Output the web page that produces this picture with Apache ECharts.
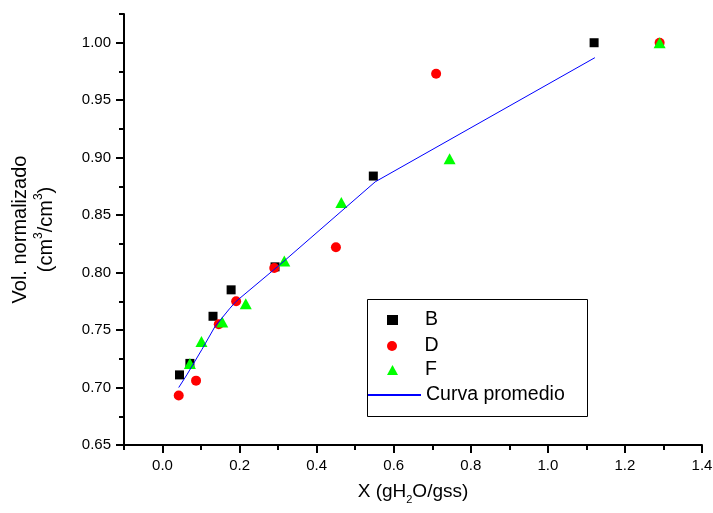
<!DOCTYPE html>
<html>
<head>
<meta charset="utf-8">
<script src="https://cdn.jsdelivr.net/npm/echarts@6/dist/echarts.min.js"></script>
<style>html,body{margin:0;padding:0;background:#fff}#c{width:713px;height:513px}</style>
</head>
<body>
<div id="c"></div>
<script>
// ---- data ----
var B_x = [0.044, 0.071, 0.131, 0.178, 0.292, 0.547, 1.120];
var B_y = [0.711, 0.721, 0.762, 0.785, 0.805, 0.884, 1.000];
var D_x = [0.042, 0.087, 0.146, 0.191, 0.290, 0.450, 0.710, 1.290];
var D_y = [0.693, 0.706, 0.755, 0.775, 0.804, 0.822, 0.973, 1.000];
var F_x = [0.071, 0.101, 0.155, 0.216, 0.316, 0.464, 0.745, 1.290];
var F_y = [0.721, 0.740, 0.757, 0.773, 0.810, 0.861, 0.899, 1.000];
var C_x = [0.042, 0.063, 0.102, 0.136, 0.175, 0.191, 0.305, 0.552, 1.122];
var C_y = [0.700, 0.711, 0.733, 0.753, 0.769, 0.775, 0.807, 0.879, 0.987];
var seriesNames = ['B', 'D', 'F', 'Curva promedio'];
var xMajorTicks = [0.0, 0.2, 0.4, 0.6, 0.8, 1.0, 1.2, 1.4];
var xMinorTicks = [-0.1, 0.1, 0.3, 0.5, 0.7, 0.9, 1.1, 1.3];
var yMajorTicks = [0.65, 0.70, 0.75, 0.80, 0.85, 0.90, 0.95, 1.00];
var yMinorTicks = [0.675, 0.725, 0.775, 0.825, 0.875, 0.925, 0.975, 1.025];

function pairs(xs, ys) { return xs.map(function (x, i) { return [x, ys[i]]; }); }

var FONT = '"Liberation Sans", Arial, sans-serif';
var chart = echarts.init(document.getElementById('c'), null, {renderer: 'canvas'});
var axisLineStyle = {color: '#000', width: 2};
var gridBox = {left: 124, right: 11, top: 14, bottom: 68, containLabel: false, outerBoundsMode: 'none'};
var legendText = {fontSize: 19.5, lineHeight: 17, color: '#000', fontFamily: FONT};
var legendTops = [310, 336, 360, 385];

function scatterLegend(i) {
  return {
    orient: 'vertical', left: 387, top: legendTops[i], padding: 0,
    itemWidth: 11, itemHeight: 10, data: [seriesNames[i]],
    textStyle: Object.assign({padding: [0, 0, 0, 22]}, legendText)
  };
}

chart.setOption({
  backgroundColor: '#fff',
  animation: false,
  textStyle: {fontFamily: FONT, color: '#000'},
  grid: [Object.assign({}, gridBox), Object.assign({}, gridBox)],
  xAxis: [{
    gridIndex: 0, type: 'value', min: -0.1, max: 1.4, position: 'bottom',
    axisLine: {show: true, onZero: false, lineStyle: axisLineStyle},
    axisTick: {show: true, customValues: xMajorTicks, length: 8, inside: false, lineStyle: {color: '#000', width: 2}},
    axisLabel: {customValues: xMajorTicks, fontSize: 15, color: '#000', margin: 13, fontFamily: FONT,
      formatter: function (v) { return v.toFixed(1); }},
    splitLine: {show: false},
    name: 'X (gH{sub|2}O/gss)', nameLocation: 'middle', nameGap: 37,
    nameTextStyle: {fontSize: 19, color: '#000', fontFamily: FONT,
      rich: {sub: {fontSize: 11, verticalAlign: 'bottom', fontFamily: FONT, color: '#000', padding: [0, 0, -4, 0]}}}
  }, {
    gridIndex: 1, type: 'value', min: -0.1, max: 1.4, position: 'bottom',
    axisLine: {show: false, onZero: false},
    axisTick: {show: true, customValues: xMinorTicks, length: 5, inside: false, lineStyle: {color: '#000', width: 2}},
    axisLabel: {show: false}, splitLine: {show: false}
  }],
  yAxis: [{
    gridIndex: 0, type: 'value', min: 0.65, max: 1.025, position: 'left',
    axisLine: {show: true, onZero: false, lineStyle: axisLineStyle},
    axisTick: {show: true, customValues: yMajorTicks, length: 8, inside: false, lineStyle: {color: '#000', width: 2}},
    axisLabel: {customValues: yMajorTicks, fontSize: 15, color: '#000', margin: 13, fontFamily: FONT,
      formatter: function (v) { return v.toFixed(2); }},
    splitLine: {show: false},
    name: 'Vol. normalizado\n(cm{sup|3}/cm{sup|3})', nameLocation: 'middle', nameRotate: 90, nameGap: 65,
    nameTextStyle: {fontSize: 20, lineHeight: 26, color: '#000', fontFamily: FONT, align: 'center',
      rich: {sup: {fontSize: 12, verticalAlign: 'top', lineHeight: 14, fontFamily: FONT, color: '#000'}}}
  }, {
    gridIndex: 1, type: 'value', min: 0.65, max: 1.025, position: 'left',
    axisLine: {show: false, onZero: false},
    axisTick: {show: true, customValues: yMinorTicks, length: 5, inside: false, lineStyle: {color: '#000', width: 2}},
    axisLabel: {show: false}, splitLine: {show: false}
  }],
  legend: [
    scatterLegend(0), scatterLegend(1), scatterLegend(2),
    {
      orient: 'vertical', left: 367, top: legendTops[3], padding: 0,
      itemWidth: 53, itemHeight: 10,
      data: [{name: seriesNames[3], itemStyle: {opacity: 0}}],
      textStyle: legendText
    }
  ],
  graphic: [{
    type: 'rect', left: 365, top: 297, silent: true,
    shape: {width: 220, height: 117},
    style: {fill: 'none', stroke: '#000', lineWidth: 1}
  }],
  series: [{
    name: seriesNames[0], type: 'scatter', symbol: 'rect', symbolSize: 9,
    itemStyle: {color: '#000000', opacity: 1}, data: pairs(B_x, B_y), z: 3
  }, {
    name: seriesNames[1], type: 'scatter', symbol: 'circle', symbolSize: 10,
    itemStyle: {color: '#ff0000', opacity: 1}, data: pairs(D_x, D_y), z: 4
  }, {
    name: seriesNames[2], type: 'scatter', symbol: 'triangle', symbolSize: [12, 11],
    itemStyle: {color: '#00ff00', opacity: 1}, data: pairs(F_x, F_y), z: 5
  }, {
    name: seriesNames[3], type: 'line', showSymbol: false, symbol: 'none',
    lineStyle: {color: '#0000ff', width: 1}, itemStyle: {color: '#0000ff'},
    data: pairs(C_x, C_y), z: 6
  }]
});
</script>
</body>
</html>
